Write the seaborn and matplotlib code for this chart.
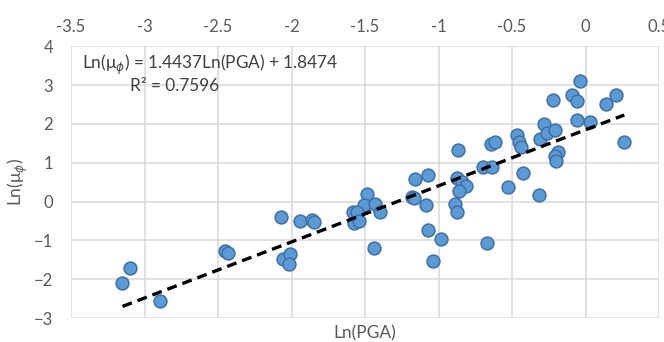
import numpy as np
import pandas as pd
import matplotlib
matplotlib.use("Agg")
import matplotlib.pyplot as plt
import seaborn as sns

# values
ln_pga = [-3.15, -3.10, -2.895, -2.45, -2.43, -2.06, -2.01, -2.02, -2.07, -1.94,
          -1.86, -1.845, -1.49, -1.505, -1.43, -1.40, -1.585, -1.555, -1.575, -1.54,
          -1.44, -1.16, -1.07, -1.18, -1.165, -1.085, -1.07, -0.98, -1.04, -0.865,
          -0.875, -0.84, -0.81, -0.86, -0.885, -0.876, -0.695, -0.634, -0.645, -0.616,
          -0.525, -0.316, -0.427, -0.468, -0.45, -0.44, -0.31, -0.282, -0.26, -0.207,
          -0.219, -0.185, -0.207, -0.20, -0.09, -0.06, -0.037, -0.058, 0.031, 0.14,
          0.207, 0.264, -0.668]
ln_mu = [-2.10, -1.72, -2.57, -1.27, -1.32, -1.47, -1.35, -1.60, -0.40, -0.50,
         -0.47, -0.52, 0.19, -0.09, -0.07, -0.28, -0.26, -0.26, -0.56, -0.49,
         -1.19, 0.57, 0.69, 0.12, 0.10, -0.09, -0.73, -0.96, -1.52, 1.33,
         0.60, 0.51, 0.40, 0.28, -0.06, -0.26, 0.90, 0.88, 1.48, 1.54,
         0.38, 0.17, 0.74, 1.71, 1.54, 1.41, 1.60, 1.99, 1.76, 1.84,
         2.61, 1.28, 1.17, 1.04, 2.74, 2.59, 3.10, 2.10, 2.05, 2.50,
         2.75, 1.52, -1.08]
slope = 1.4437
intercept = 1.8474
r2 = 0.7596
x_ticks = [-3.5, -3, -2.5, -2, -1.5, -1, -0.5, 0, 0.5]
y_ticks = [-3, -2, -1, 0, 1, 2, 3, 4]

df = pd.DataFrame({"x": ln_pga, "y": ln_mu})

sns.set_style("white")
plt.rcParams["font.family"] = ["Lato", "DejaVu Sans"]

fig, ax = plt.subplots(figsize=(6.64, 3.42), dpi=100)
fig.subplots_adjust(left=0.107, right=0.9925, top=0.865, bottom=0.07)

sns.scatterplot(data=df, x="x", y="y", ax=ax, s=85, color="#5B9BD5",
                edgecolor="#3F6FA8", linewidth=1.1, zorder=3)

xl = np.array([min(ln_pga), max(ln_pga)])
ax.plot(xl, slope * xl + intercept, color="black", lw=2.4, ls=(0, (3, 1.8)), zorder=4)

ax.set_xlim(-3.5, 0.5)
ax.set_ylim(-3, 4)
ax.set_xticks(x_ticks)
ax.set_xticklabels([f"{t:g}" for t in x_ticks])
ax.set_yticks(y_ticks)
ax.xaxis.tick_top()
ax.xaxis.set_label_position("bottom")
ax.tick_params(length=0, labelsize=12, labelcolor="#595959")
ax.tick_params(axis="x", pad=8)
ax.tick_params(axis="y", pad=13)
ax.grid(True, color="#D9D9D9", lw=1.1, zorder=0)
for s in ax.spines.values():
    s.set_visible(False)

ax.set_xlabel("Ln(PGA)", fontsize=12.5, color="#595959", labelpad=5)
ax.set_ylabel(r"Ln(μ$_\phi$)", fontsize=12.5, color="#595959", labelpad=3)

ax.text(-3.425, 3.52, r"Ln(μ$_\phi$) = " + f"{slope}Ln(PGA) + {intercept}",
        fontsize=12.4, color="#404040", va="center", ha="left", zorder=5)
ax.text(-3.1, 2.97, f"R² = {r2}", fontsize=12.4, color="#404040",
        va="center", ha="left", zorder=5)

fig.savefig("out.png", dpi=100)
